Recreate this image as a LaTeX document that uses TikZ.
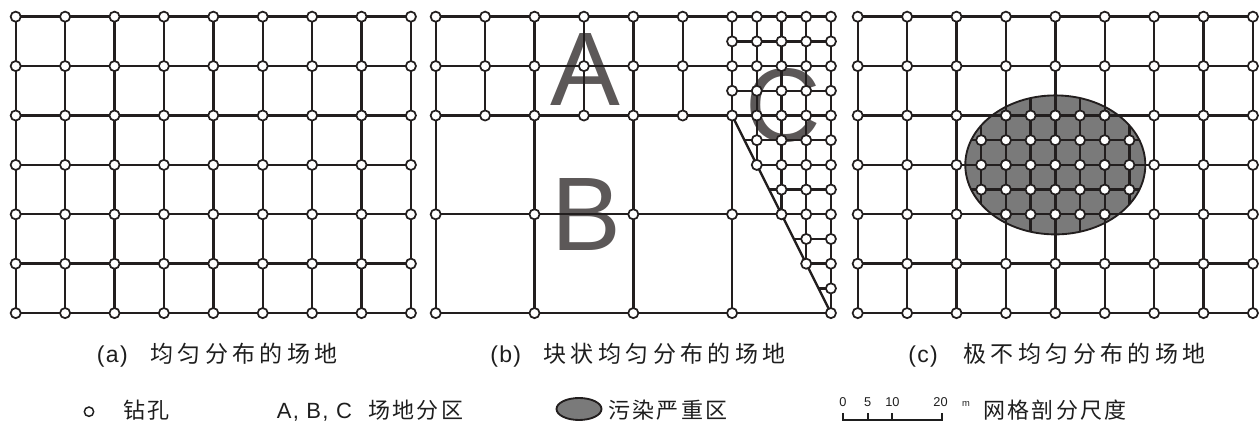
\documentclass[tikz,border=0pt]{standalone}
\usepackage{fontspec}
\setmainfont{Liberation Sans}
\newfontfamily\cjkcap[LetterSpace=19]{Noto Sans CJK SC}
\newfontfamily\cjkleg[LetterSpace=10]{Noto Sans CJK SC}
\newfontfamily\latcap[LetterSpace=6]{Liberation Sans}
\newfontfamily\latleg[LetterSpace=6]{Liberation Sans}
\definecolor{gridc}{RGB}{34,30,30}
\definecolor{letc}{RGB}{92,88,88}
\definecolor{fillc}{RGB}{122,122,122}
\definecolor{txtc}{RGB}{30,30,30}
\tikzset{
  gline/.style={draw=gridc, line width=1.8pt},
  hole/.style={circle, draw=gridc, fill=white, line width=1.3pt, minimum size=7.6pt, inner sep=0pt},
  legendhole/.style={circle, draw=txtc, fill=white, line width=1.1pt, minimum size=7.0pt, inner sep=0pt},
  bigletter/.style={text=letc, inner sep=0pt, font=\fontsize{78.5pt}{80pt}\selectfont},
  captext/.style={anchor=base west, inner sep=0pt, text=txtc, font=\fontsize{17.25pt}{20pt}\selectfont},
  legtext/.style={anchor=base west, inner sep=0pt, text=txtc, font=\cjkleg\fontsize{16.5pt}{19pt}\selectfont},
  zone/.style={draw=gridc, fill=fillc, line width=1.4pt},
  scalebar/.style={draw=txtc, line width=1.5pt},
  scalelab/.style={inner sep=0pt, text=txtc, font=\fontsize{9.6pt}{11pt}\selectfont},
}
\begin{document}
\begin{tikzpicture}[x=0.75pt,y=-0.75pt]
\fill[white] (0,0) rectangle (1260,423);
\useasboundingbox (0,0) rectangle (1260,423);
\def\s{49.4}
\def\yo{16.7}
% ================= panel (a) =================
\def\ax{15.7}
\foreach \i in {0,...,8} \draw[gline] ({\ax+\i*\s},\yo) -- ({\ax+\i*\s},{\yo+6*\s});
\foreach \j in {0,...,6} \draw[gline] (\ax,{\yo+\j*\s}) -- ({\ax+8*\s},{\yo+\j*\s});
\foreach \i in {0,...,8} \foreach \j in {0,...,6}
  \node[hole] (a-\i-\j) at ({\ax+\i*\s},{\yo+\j*\s}) {};
% ================= panel (b) =================
\def\bx{435.7}
\node[bigletter] (LA) at (585.8,69.5) {A};
\node[bigletter] (LB) at (586,214.5) {B};
\node[bigletter] (LC) at (783.5,105.5) {C};
% zone A
\foreach \j in {0,1,2} \draw[gline] (\bx,{\yo+\j*\s}) -- ({\bx+8*\s},{\yo+\j*\s});
\foreach \i in {0,...,6} \draw[gline] ({\bx+\i*\s},\yo) -- ({\bx+\i*\s},{\yo+2*\s});
% zone B
\foreach \i in {0,2,4,6} \draw[gline] ({\bx+\i*\s},{\yo+2*\s}) -- ({\bx+\i*\s},{\yo+6*\s});
\foreach \j in {4,6} \draw[gline] (\bx,{\yo+\j*\s}) -- ({\bx+8*\s},{\yo+\j*\s});
% zone C
\foreach \k in {0,...,11} {
  \pgfmathsetmacro\xs{\bx+6*\s+max(0,(\k*0.5-2)/2)*\s}
  \draw[gline] (\xs,{\yo+\k*0.5*\s}) -- ({\bx+8*\s},{\yo+\k*0.5*\s});
}
\foreach \m in {1,...,4}
  \draw[gline] ({\bx+6*\s+\m*0.5*\s},\yo) -- ({\bx+6*\s+\m*0.5*\s},{\yo+2*\s+\m*\s});
\coordinate (diagtop) at ({\bx+6*\s},{\yo+2*\s});
\coordinate (diagbot) at ({\bx+8*\s},{\yo+6*\s});
\draw[gline] (diagtop) -- (diagbot);
% nodes b
\foreach \i in {0,...,5} \foreach \j in {0,1,2}
  \node[hole] (bA-\i-\j) at ({\bx+\i*\s},{\yo+\j*\s}) {};
\foreach \i in {0,2,4,6} \foreach \j in {4,6}
  \node[hole] (bB-\i-\j) at ({\bx+\i*\s},{\yo+\j*\s}) {};
\foreach \k in {0,...,12} {
  \pgfmathtruncatemacro\mlo{max(0,ceil((\k-4)/2))}
  \foreach \m in {\mlo,...,4}
    \node[hole] (bC-\m-\k) at ({\bx+6*\s+\m*0.5*\s},{\yo+\k*0.5*\s}) {};
}
% ================= panel (c) =================
\def\cx{857.7}
\foreach \i in {0,...,8} \draw[gline] ({\cx+\i*\s},\yo) -- ({\cx+\i*\s},{\yo+6*\s});
\foreach \j in {0,...,6} \draw[gline] (\cx,{\yo+\j*\s}) -- ({\cx+8*\s},{\yo+\j*\s});
\coordinate (ec) at ({\cx+4*\s},{\yo+3*\s});
\fill[fillc] (ec) ellipse [x radius=90, y radius=69.5];
\begin{scope}
  \clip (ec) ellipse [x radius=90, y radius=69.5];
  \foreach \k in {-4,...,4}
    \draw[gline] ([xshift={\k*0.5*\s*0.75pt}]ec) ++(0,-80) -- ++(0,160);
  \foreach \j in {-3,...,3}
    \draw[gline] ([yshift={-\j*0.5*\s*0.75pt}]ec) ++(-100,0) -- ++(200,0);
\end{scope}
\draw[draw=gridc, line width=1.4pt] (ec) ellipse [x radius=90, y radius=69.5];
\foreach \i in {0,...,8} \foreach \j in {0,...,6}
  \node[hole] (c-\i-\j) at ({\cx+\i*\s},{\yo+\j*\s}) {};
\foreach \j in {-1,0,1} \foreach \k in {-3,...,3}
  \node[hole] (cf-\k-\j) at ({\cx+4*\s+\k*0.5*\s},{\yo+3*\s+\j*0.5*\s}) {};
\foreach \j in {-2,2} \foreach \k in {-2,...,2}
  \node[hole] (cf-\k-\j) at ({\cx+4*\s+\k*0.5*\s},{\yo+3*\s+\j*0.5*\s}) {};
% ================= captions =================
\node[captext] (capa) at (96.7,363) {\makebox[40pt][l]{\latcap(a)}{\cjkcap 均匀分布的场地}};
\node[captext] (capb) at (490,363) {\makebox[40pt][l]{\latcap(b)}{\cjkcap 块状均匀分布的场地}};
\node[captext] (capc) at (908,363) {\makebox[41.5pt][l]{\latcap(c)}{\cjkcap 极不均匀分布的场地}};
% ================= legend =================
\node[legendhole] (lhole) at (89,411.7) {};
\node[legtext] (lt1) at (123.3,418.7) {钻孔};
\node[legtext] (lt2) at (276.7,418.7) {\makebox[68.7pt][l]{\latleg A, B, C}场地分区};
\draw[zone] (579,409) ellipse [x radius=22.5, y radius=11];
\node[legtext] (lt3) at (608.3,418.7) {污染严重区};
\coordinate (s0) at (843,420);
\coordinate (s5) at (867.7,420);
\coordinate (s10) at (892.4,420);
\coordinate (s20) at (941.8,420);
\draw[scalebar] ([yshift=5.3pt]s0) -- (s0) -- (s20) -- ([yshift=5.3pt]s20);
\draw[scalebar] (s5) -- ([yshift=5.3pt]s5);
\draw[scalebar] (s10) -- ([yshift=5.3pt]s10);
\node[scalelab] (n0) at (843,402.5) {0};
\node[scalelab] (n5) at (867.7,402.5) {5};
\node[scalelab] (n10) at (892.4,402.5) {10};
\node[scalelab] (n20) at (940.5,402.5) {20};
\node[scalelab, font=\fontsize{7pt}{8pt}\selectfont] (nm) at (966,404) {m};
\node[legtext] (lt4) at (983.3,418.7) {网格剖分尺度};
\end{tikzpicture}
\end{document}
